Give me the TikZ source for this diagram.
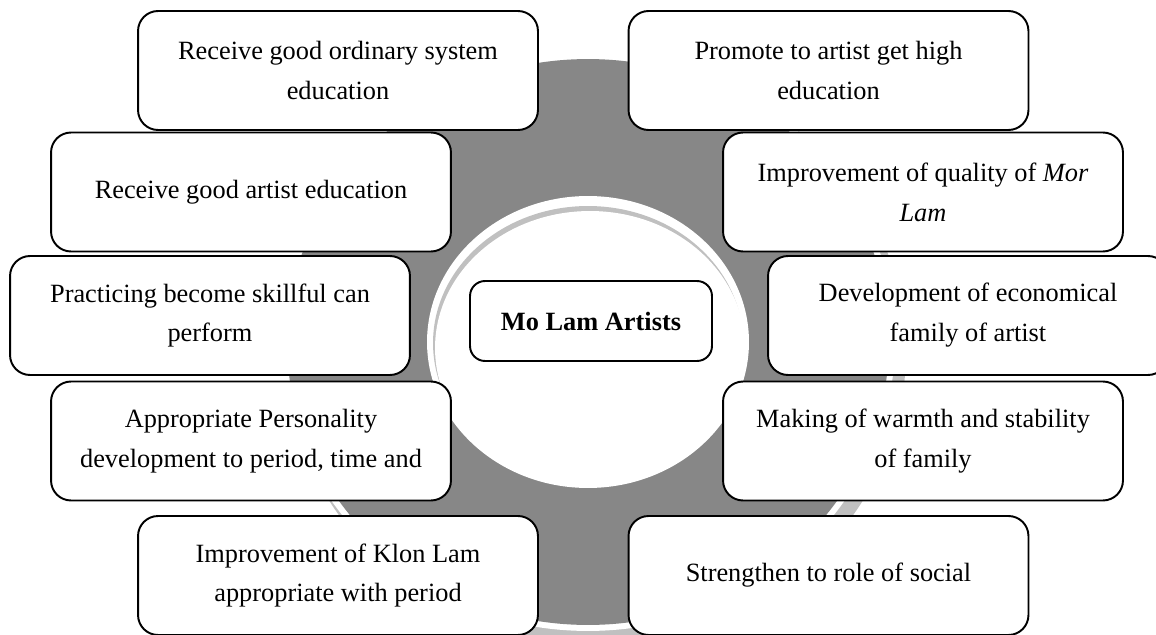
\documentclass[tikz,border=0pt]{standalone}
\usepackage{fontspec}
\setmainfont{Liberation Serif}
\definecolor{ringgray}{RGB}{135,135,135}
\definecolor{rimgray}{RGB}{192,192,192}

\begin{document}
\begin{tikzpicture}[x=0.02cm, y=-0.02cm,
            idea/.style={draw, line width=1.1pt, rounded corners=0.4cm, fill=white,
                minimum width=8cm, minimum height=2.38cm, inner sep=0pt,
                align=center, font=\fontsize{15}{22.7}\selectfont},
            hub/.style={idea, minimum width=4.84cm, minimum height=1.6cm,
                rounded corners=0.3cm, font=\fontsize{15}{18}\selectfont\bfseries}]

        \clip (0,0) rectangle (1156,635);

        % ring behind the boxes
        \fill[rimgray] (596,352) ellipse [x radius=6.2cm, y radius=5.84cm];
        \fill[white] (588,342) ellipse [x radius=6.14cm, y radius=5.78cm];
        \fill[ringgray] (588,342) ellipse [x radius=6.02cm, y radius=5.66cm];
        \fill[white] (588,342) ellipse [x radius=3.22cm, y radius=2.92cm];
        \fill[rimgray] (588,343) ellipse [x radius=3.1cm, y radius=2.74cm];
        \fill[white] (590,348) ellipse [x radius=3.1cm, y radius=2.74cm];

        \node[hub] (artists) at (591,321) {Mo Lam Artists};

        \node[idea] (sys) at (338,70.5) {Receive good ordinary system\\education};
        \node[idea] (high) at (828.5,70.5) {Promote to artist get high\\education};
        \node[idea] (art) at (251,192) {Receive good artist education};
        \node[idea] (quality) at (923,192) {Improvement of quality of \textit{Mor}\\\textit{Lam}};
        \node[idea] (skill) at (210,315.5) {Practicing become skillful can\\perform};
        \node[idea] (econ) at (968,315.5) {Development of economical\\family of artist};
        \node[idea] (person) at (251,441) {Appropriate Personality\\development to period, time and};
        \node[idea] (warmth) at (923,441) {Making of warmth and stability\\of family};
        \node[idea] (klon) at (338,575.5) {Improvement of Klon Lam\\appropriate with period};
        \node[idea] (social) at (828.5,575.5) {Strengthen to role of social};

\end{tikzpicture}
\end{document}
